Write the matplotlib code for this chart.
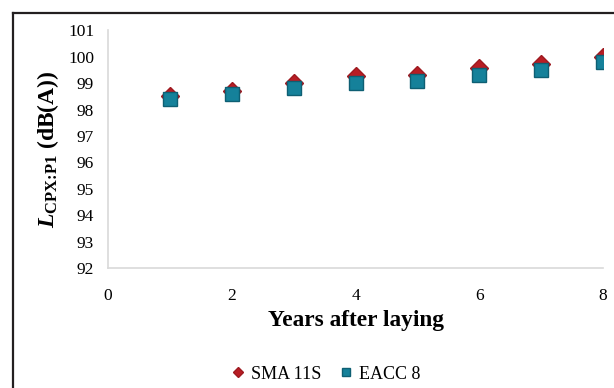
import matplotlib.pyplot as plt
from matplotlib.lines import Line2D

plt.rcParams['font.family'] = 'Liberation Serif'
plt.rcParams['mathtext.fontset'] = 'custom'
plt.rcParams['mathtext.rm'] = 'Liberation Serif:bold'
plt.rcParams['mathtext.it'] = 'Liberation Serif:italic:bold'
plt.rcParams['mathtext.bf'] = 'Liberation Serif:bold'

years = [1, 2, 3, 4, 5, 6, 7, 8]
sma_11s = [98.5, 98.72, 99.0, 99.28, 99.3, 99.56, 99.72, 100.0]
eacc_8 = [98.4, 98.59, 98.8, 99.0, 99.09, 99.31, 99.5, 99.81]

fig = plt.figure(figsize=(6.14, 3.88), dpi=100)
ax = fig.add_axes([0.176, 0.309, 0.806, 0.613])

ax.plot(years, sma_11s, linestyle='none', marker='D', markersize=9,
        color='#B81D24', markeredgecolor='#9E1A20', label='SMA 11S', zorder=3)
ax.plot(years, eacc_8, linestyle='none', marker='s', markersize=10,
        color='#15819A', markeredgecolor='#0E5F73', label='EACC 8', zorder=4)

ax.set_xlim(0, 8)
ax.set_ylim(92, 101)
ax.set_xticks([0, 2, 4, 6, 8])
ax.set_yticks(range(92, 102))
ax.tick_params(length=0, labelsize=12.5)
ax.tick_params(axis='x', pad=14)
ax.tick_params(axis='y', pad=10)
for s in ['top', 'right']:
    ax.spines[s].set_visible(False)
for s in ['left', 'bottom']:
    ax.spines[s].set_color('#D9D9D9')
    ax.spines[s].set_linewidth(1.2)

ax.set_xlabel('Years after laying', fontsize=16.8, fontweight='bold', labelpad=5)
ax.set_ylabel(r'$\mathit{L}_{\text{CPX:P1}}\ \mathrm{(dB(A))}$', fontsize=17, labelpad=5)

fig.legend(loc='center', bbox_to_anchor=(0.53, 0.036), ncol=2, frameon=False,
           fontsize=13, handlelength=0.8, handletextpad=0.3, columnspacing=1.0,
           markerscale=0.6)

# outer frame (cut off at right and bottom)
fig.add_artist(Line2D([12.5 / 614, 1.0], [1 - 12.5 / 388] * 2, transform=fig.transFigure,
                      color='#231F20', linewidth=1.6))
fig.add_artist(Line2D([12.5 / 614] * 2, [0.0, 1 - 12.5 / 388], transform=fig.transFigure,
                      color='#231F20', linewidth=1.6))

fig.savefig('out.png', dpi=100)
